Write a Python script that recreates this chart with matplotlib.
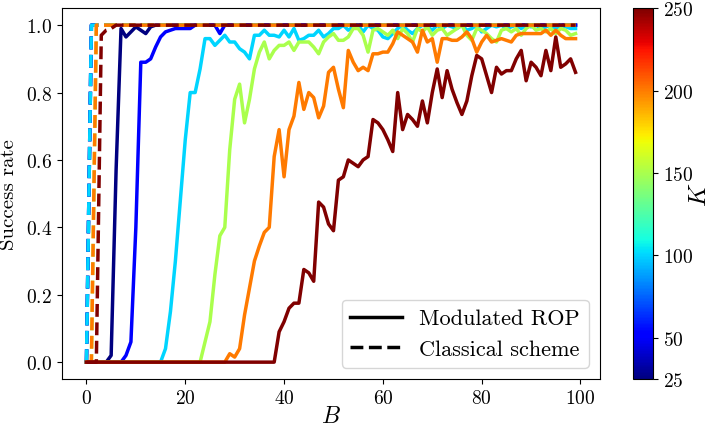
import numpy as np
import matplotlib
matplotlib.use('Agg')
import matplotlib.pyplot as plt
from matplotlib.colors import Normalize
from matplotlib.cm import ScalarMappable
from matplotlib.lines import Line2D

plt.rcParams.update({
    'font.family': 'serif',
    'font.serif': ['cmr10'],
    'mathtext.fontset': 'cm',
    'axes.formatter.use_mathtext': True,
    'axes.unicode_minus': False,
})

# ---------------- data ----------------
B = list(range(100))
K_values = [25, 50, 100, 150, 200, 250]

rop_25 = [0, 0, 0, 0, 0, 0.02, 0.57, 0.99, 0.965, 0.98, 0.995, 0.985, 0.975, 0.995] + [1.0] * 86

rop_50 = ([0] * 8 +
          [0.02, 0.06, 0.40, 0.89, 0.89, 0.90, 0.935, 0.965, 0.98, 0.985, 0.99, 0.99, 0.99, 0.99] +
          [1.0] * 5 + [0.975] + [1.0] * 72)

rop_100 = ([0] * 16 +
           [0.04, 0.15, 0.30, 0.48, 0.66, 0.80, 0.80, 0.87, 0.96, 0.96,
            0.94, 0.955, 0.97, 0.95, 0.95, 0.93, 0.92, 0.90, 0.97, 0.97,
            0.985, 0.97, 0.97, 0.965, 0.985, 0.965, 0.99, 0.955, 0.96, 0.97,
            0.97, 0.985, 0.965, 0.975, 0.99] +
           [0.99, 1.0, 0.985, 0.995, 1.0, 0.98, 1.0, 0.99, 0.985, 0.965,
            0.96, 0.975, 0.99, 1.0, 0.985, 0.975, 0.99, 1.0, 0.995, 0.985,
            1.0, 0.99, 1.0, 0.995, 0.99, 1.0, 0.985, 0.99, 1.0, 0.98,
            0.99, 1.0, 0.995, 1.0, 0.99, 0.995, 1.0, 0.99, 1.0, 0.995,
            1.0, 0.99, 0.995, 1.0, 0.99, 1.0, 0.995, 0.99, 0.99])

rop_150 = ([0] * 24 +
           [0.06, 0.12, 0.26, 0.375, 0.40, 0.63, 0.78, 0.825, 0.71, 0.78,
            0.87, 0.92, 0.95, 0.90, 0.925, 0.94, 0.94, 0.95, 0.925, 0.95,
            0.95, 0.95, 0.935, 0.915, 0.95, 0.965, 0.975, 0.955, 0.955, 0.965,
            0.99, 0.99, 0.97, 0.92, 0.985, 0.99, 0.98] +
           [0.97, 0.985, 0.96, 0.99, 0.975, 0.95, 0.99, 0.98, 0.995, 0.97,
            0.985, 0.99, 0.97, 0.98, 0.99, 1.0, 0.97, 0.955, 0.99, 0.985,
            0.975, 0.96, 0.95, 0.985, 0.99, 0.98, 0.99, 0.97, 0.99, 1.0,
            0.985, 0.99, 0.98, 0.99, 0.975, 0.99, 0.985, 0.97, 0.975])

rop_200 = ([0] * 29 +
           [0.025, 0.015, 0.04, 0.14, 0.22, 0.30, 0.345, 0.385, 0.40, 0.61,
            0.69, 0.55, 0.69, 0.73, 0.83, 0.75, 0.80, 0.785, 0.725, 0.76,
            0.86, 0.875, 0.81, 0.755, 0.925, 0.89, 0.865, 0.875, 0.865, 0.915,
            0.915, 0.92, 0.92, 0.945, 0.98, 0.97, 0.96, 0.95, 0.92, 0.985,
            0.95, 0.96, 0.89, 0.96, 0.96, 0.955, 0.955, 0.965, 0.98, 0.96,
            0.92, 0.95, 0.97, 0.95, 0.955, 0.96, 0.955, 0.95, 0.97, 0.975,
            0.975, 0.975, 0.975, 0.975, 0.985, 0.97, 0.985, 0.97, 0.96, 0.96,
            0.96])

rop_250 = ([0] * 39 +
           [0.09, 0.12, 0.16, 0.175, 0.175, 0.275, 0.265, 0.24, 0.475, 0.46,
            0.41, 0.39, 0.54, 0.55, 0.60, 0.59, 0.58, 0.60, 0.61, 0.72,
            0.71, 0.69, 0.66, 0.625, 0.80, 0.69, 0.735, 0.72, 0.70, 0.775,
            0.71, 0.80, 0.87, 0.785, 0.865, 0.81, 0.77, 0.735, 0.775, 0.85,
            0.91, 0.90, 0.85, 0.80, 0.875, 0.855, 0.865, 0.865, 0.90, 0.925,
            0.835, 0.89, 0.875, 0.85, 0.925, 0.865, 0.965, 0.875, 0.885, 0.90,
            0.86])

cls_25 = [0.0] + [1.0] * 99
cls_50 = [0.0] + [1.0] * 99
cls_100 = [0.0] + [1.0] * 99
cls_150 = [0.0, 0.0] + [1.0] * 98
cls_200 = [0.0, 0.0] + [1.0] * 98
cls_250 = [0.0, 0.0, 0.0, 0.97, 0.985, 0.99] + [1.0] * 94

rop_series = [rop_25, rop_50, rop_100, rop_150, rop_200, rop_250]
cls_series = [cls_25, cls_50, cls_100, cls_150, cls_200, cls_250]

cbar_ticks = [25, 50, 100, 150, 200, 250]
legend_labels = ['Modulated ROP', 'Classical scheme']

# ---------------- plot ----------------
fig = plt.figure(figsize=(7.12, 4.31), dpi=100)
ax = fig.add_axes([62 / 712, 1 - 380 / 431, (600 - 62) / 712, (380 - 9.3) / 431])
cax = fig.add_axes([633 / 712, 1 - 380 / 431, 20 / 712, (380 - 9.3) / 431])

cmap = plt.cm.jet
norm = Normalize(vmin=25, vmax=250)
lw = 2.5

for K, rop, cls in zip(K_values, rop_series, cls_series):
    c = cmap(norm(K))
    ax.plot(B, rop, color=c, lw=lw, linestyle='-')
    ax.plot(B, cls, color=c, lw=lw, linestyle='--')

ax.set_xlabel('$B$', fontsize=17, labelpad=-1)
ax.set_ylabel('Success rate', fontsize=15, labelpad=6)
ax.tick_params(labelsize=14)

handles = [Line2D([], [], color='black', lw=lw, linestyle='-'),
           Line2D([], [], color='black', lw=lw, linestyle='--')]
ax.legend(handles, legend_labels, loc='lower right', fontsize=16, handlelength=2.3)

sm = ScalarMappable(norm=norm, cmap=cmap)
cb = fig.colorbar(sm, cax=cax, ticks=cbar_ticks)
cb.ax.tick_params(labelsize=14)
cb.set_label('$K$', fontsize=18, labelpad=-3)

fig.savefig('out.png', dpi=100)
